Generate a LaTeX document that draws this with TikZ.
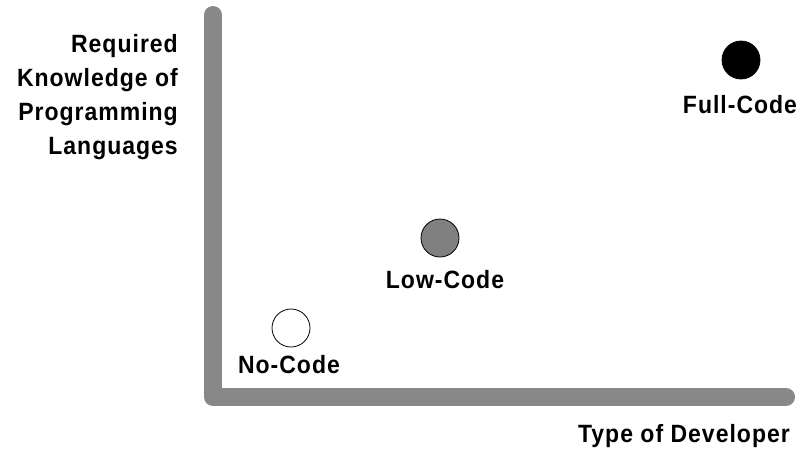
\documentclass[tikz,border=0pt]{standalone}
\usepackage{fontspec}
\setmainfont{Liberation Sans}[FakeStretch=0.92, LetterSpace=4]
\usepackage{xcolor}
\usepackage{tikz}
\usetikzlibrary{positioning}
\definecolor{axisgray}{RGB}{136,136,136}
\definecolor{dotgray}{RGB}{128,128,128}
\tikzset{
	dotnode/.style={circle, draw=black, thick, minimum size=38pt, inner sep=0pt},
	labeltext/.style={font=\fontsize{25}{34}\selectfont\bfseries, inner sep=0pt},
	axisline/.style={draw=axisgray, line width=18pt, line cap=round, line join=round}
}
\begin{document}
\begin{tikzpicture}[x=1pt,y=1pt]
		\useasboundingbox (0,0) rectangle (811,-461);
		
		\coordinate (ytop) at (213,-15);
		\coordinate (orig) at (213,-397);
		\coordinate (xend) at (786,-397);
		\draw[axisline] (ytop) -- (orig) -- (xend);
		
		\node[dotnode, fill=white] at (291,-328) (nc) {};
		\node[dotnode, fill=dotgray] at (440,-238) (lc) {};
		\node[dotnode, fill=black] at (741,-60) (fc) {};
		
		\node[labeltext, anchor=base] at (289,-373) (nct) {No-Code};
		\node[labeltext, anchor=base] at (445,-288) (lct) {Low-Code};
		\node[labeltext, anchor=base] at (740,-113) (fct) {Full-Code};
		
		\node[labeltext, align=right, anchor=base east] at (178,-154) (yt) {Required\\Knowledge of\\Programming\\Languages};
		\node[labeltext, anchor=base east] at (790,-442) (xt) {Type of Developer};
	\end{tikzpicture}
\end{document}
